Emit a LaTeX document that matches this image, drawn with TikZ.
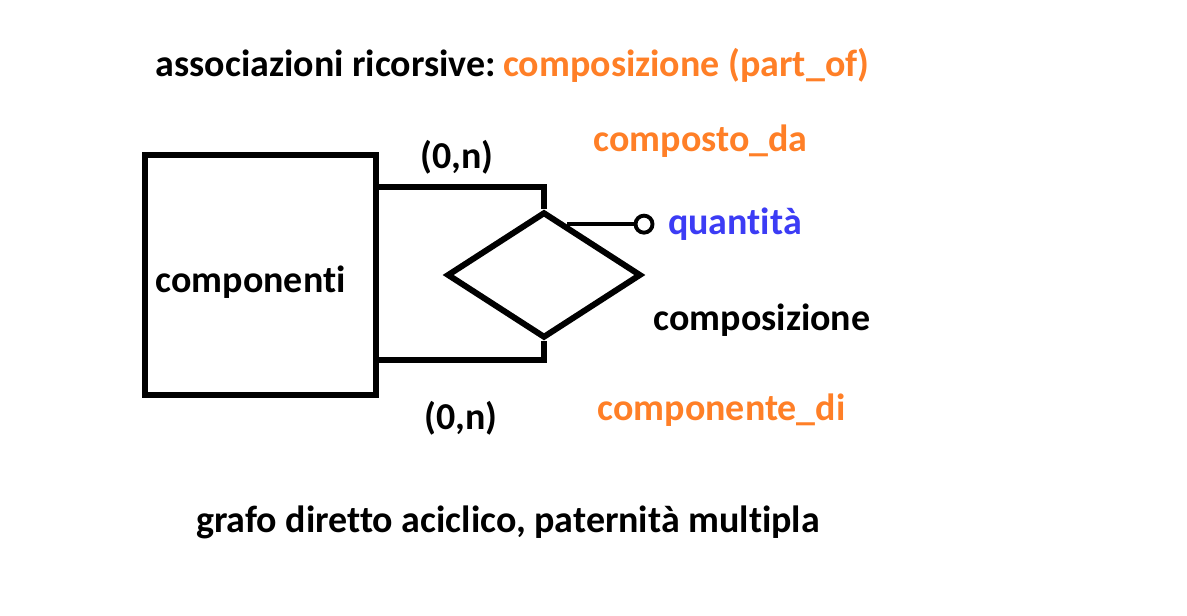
\documentclass[tikz,border=0pt]{standalone}
\usepackage{fontspec}
\setmainfont{Carlito}[Ligatures=NoCommon]
\usetikzlibrary{shapes.geometric, calc}
\definecolor{erorange}{RGB}{255,127,39}
\definecolor{erblue}{RGB}{60,60,245}
\tikzset{
    entity/.style={rectangle,draw,line width=1.7pt,minimum width=2.31cm,minimum height=2.4cm,inner sep=0pt},
    relation/.style={diamond,draw,line width=1.7pt,minimum width=1.94cm,minimum height=1.26cm,aspect=1.54,inner sep=0pt},
    attr/.style={circle,draw,line width=1.1pt,fill=white,minimum size=0.17cm,inner sep=0pt},
    txt/.style={font=\fontsize{10.8}{13}\selectfont\bfseries,inner sep=0pt},
    link/.style={draw,line width=1.7pt},
}

\begin{document}
\begin{tikzpicture}[x=0.01cm,y=-0.01cm]
\useasboundingbox (0,0) rectangle (1187,616);
\node[txt,anchor=west] (title) at (155,65) {associazioni ricorsive:\hspace{-1.2pt} \textcolor{erorange}{composizione (part\_of)}};
\node[entity] (ent) at (260.5,275) {};
\node[txt,anchor=west] (entname) at (155,282) {componenti};
\node[relation] (rel) at (544,275) {};
\coordinate (attfoot) at ($(rel.north)!0.23!(rel.east)$);
\node[attr] (att) at ($(attfoot)+(77,0)$) {};
\node[txt,anchor=west,text=erblue] (attname) at ($(att.east)+(13,0)$) {quantità};
\node[txt] (card1) at (457,157) {(0,n)};
\node[txt] (card2) at (461,418) {(0,n)};
\node[txt,anchor=west,text=erorange] (role1) at (593,141) {composto\_da};
\node[txt,anchor=west] (relname) at (653,320) {composizione};
\node[txt,anchor=west,text=erorange] (role2) at (597,410) {componente\_di};
\node[txt] (note) at (508,522) {grafo diretto aciclico, paternità multipla};
\coordinate (jtop) at (0,187);
\coordinate (jbot) at (0,360);
\draw[link] (ent.east |- jtop) -| (rel.north);
\draw[link] (ent.east |- jbot) -| (rel.south);
\draw[line width=1.1pt] (attfoot) -- (att.west);
\end{tikzpicture}
\end{document}
